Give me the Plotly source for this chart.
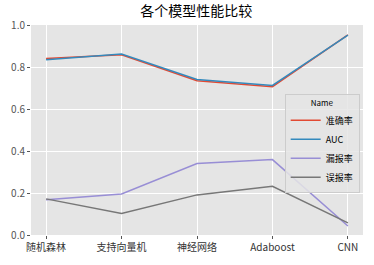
import plotly.graph_objects as go

models = ["随机森林", "支持向量机", "神经网络", "Adaboost", "CNN"]
accuracy = [0.840, 0.858, 0.735, 0.706, 0.953]
auc = [0.834, 0.862, 0.741, 0.712, 0.952]
miss_rate = [0.168, 0.195, 0.340, 0.359, 0.043]
false_rate = [0.172, 0.102, 0.191, 0.232, 0.058]

series = [("准确率", accuracy, "#E24A33"), ("AUC", auc, "#348ABD"),
          ("漏报率", miss_rate, "#988ED5"), ("误报率", false_rate, "#777777")]

FONT = "Noto Sans CJK SC"
fig = go.Figure()
for name, vals, color in series:
    fig.add_trace(go.Scatter(x=list(range(len(models))), y=vals, mode="lines", name=name,
                             line=dict(color=color, width=1.5)))

fig.update_layout(
    width=374, height=265,
    margin=dict(l=30, r=11, t=25, b=24),
    paper_bgcolor="white", plot_bgcolor="#E5E5E5",
    font=dict(family=FONT, size=10, color="#555555"),
    title=dict(text="各个模型性能比较", x=0.525, xanchor="center", y=0.975, yanchor="top",
               font=dict(family=FONT, size=14, color="black")),
    showlegend=True,
    legend=dict(x=0.99, y=0.67, xanchor="right", yanchor="top",
                bgcolor="rgba(229,229,229,0.85)", bordercolor="#CCCCCC", borderwidth=1,
                title=dict(text="Name", font=dict(size=8, color="black"), side="top center"),
                font=dict(size=9, color="black"), itemwidth=30,
                tracegroupgap=0),
)
fig.update_xaxes(range=[-0.2, 4.2], tickmode="array", tickvals=list(range(len(models))),
                 ticktext=models, showgrid=True, gridcolor="white", gridwidth=1,
                 zeroline=False, ticks="outside", ticklen=3, tickcolor="#555555",
                 tickfont=dict(size=10, color="#333333"), showline=False)
fig.update_yaxes(range=[0, 1.0], dtick=0.2, tickformat=".1f", showgrid=True, gridcolor="white",
                 gridwidth=1, zeroline=False, ticks="outside", ticklen=3, tickcolor="#555555",
                 tickfont=dict(size=10, color="#555555"), showline=False)

fig.write_html("out.html")
